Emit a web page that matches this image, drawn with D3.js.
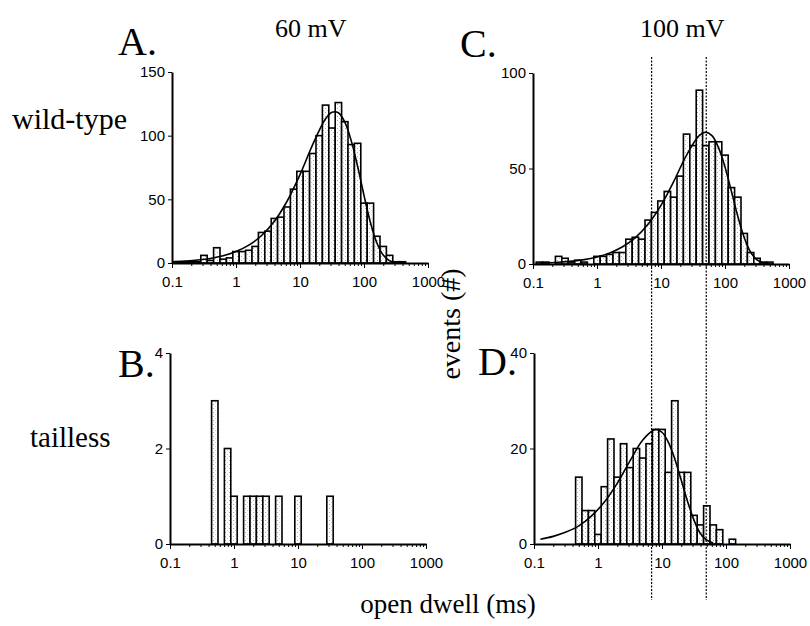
<html>
<head>
  <script src="https://d3js.org/d3.v7.min.js"></script>
  <style>
    body { margin: 0; background: #fff; }
    .axis path, .axis line { stroke: #000; }
    .axis text { font-family: "Liberation Sans", Arial, sans-serif; font-size: 15px; fill: #000; }
    .lbl { font-family: "Liberation Serif", "Times New Roman", serif; fill: #000; }
  </style>
</head>
<body>
  <svg id="fig" width="810" height="626"></svg>
  <script>
    // bin k is centred at 10^(-1 + k/10) ms (10 bins per decade)
    const countsA = [0, 1, 1, 1, 1, 6, 2, 12, 3, 4, 9, 9, 10, 13, 24, 25, 35, 36, 44, 58, 72, 72, 86, 100, 124, 106, 126, 111, 93, 94, 47, 47, 21, 13, 6, 1, 1];
    const countsB = [0, 0, 0, 0, 0, 0, 0, 3, 0, 2, 1, 0, 1, 1, 1, 1, 0, 1, 0, 0, 1, 0, 0, 0, 0, 1];
    const countsC = [0, 1, 1, 0, 4, 3, 1, 2, 1, 0, 4, 4, 5, 6, 6, 13, 14, 13, 23, 27, 33, 38, 35, 46, 68, 62, 91, 62, 64, 64, 57, 40, 35, 16, 6, 3, 1, 1];
    const countsD = [0, 0, 0, 0, 0, 0, 0, 14, 7, 7, 2, 12, 22, 14, 21, 16, 20, 18, 21, 24, 24, 15, 30, 15, 15, 6, 4, 8, 4, 3, 0, 1];

    // fitted curves: log10(ms) and height
    const fitA_log = [-1, -0.8, -0.6, -0.4, -0.2, 0, 0.2, 0.4, 0.6, 0.8, 1.0, 1.2, 1.4, 1.5, 1.6, 1.7, 1.8, 1.9, 2.0, 2.1, 2.2, 2.3, 2.4, 2.6];
    const fitA_val = [0.9, 1.5, 2.3, 3.6, 5.7, 9.0, 14.0, 21.6, 32.8, 48.7, 69.4, 93.2, 113.3, 118.4, 118.0, 110.6, 96.1, 76, 53.1, 31.9, 15.9, 6.2, 1.8, 0];
    const fitC_log = [-0.9, -0.6, -0.2, 0, 0.2, 0.4, 0.6, 0.8, 1.0, 1.2, 1.4, 1.6, 1.7, 1.8, 1.9, 2.0, 2.1, 2.2, 2.3, 2.4, 2.5, 2.6, 2.7];
    const fitC_val = [0.5, 0.9, 2.3, 3.7, 5.8, 9.0, 13.8, 20.9, 30.7, 43.3, 57.0, 67.3, 69.0, 67.1, 60.8, 50.8, 38.1, 25.0, 13.9, 6.2, 2.1, 0.5, 0];
    const fitD_log = [-0.9, -0.7, -0.5, -0.3, -0.1, 0.1, 0.3, 0.5, 0.7, 0.9, 1.0, 1.1, 1.2, 1.3, 1.4, 1.5, 1.6, 1.7, 1.8];
    const fitD_val = [1.0, 1.6, 2.5, 3.8, 5.9, 8.8, 12.7, 17.4, 21.8, 24.0, 23.4, 21.3, 17.8, 13.4, 8.9, 5.0, 2.2, 0.8, 0.2];

    const xTicks = [0.1, 1, 10, 100, 1000];
    const xTickLabels = ["0.1", "1", "10", "100", "1000"];
    const refLines = [7, 50]; // dashed markers through C and D (ms)

    const svg = d3.select("#fig");
    const defs = svg.append("defs");
    const pat = defs.append("pattern").attr("id", "stip")
      .attr("width", 4).attr("height", 4).attr("patternUnits", "userSpaceOnUse");
    pat.append("rect").attr("width", 4).attr("height", 4).attr("fill", "#fff");
    pat.append("rect").attr("x", 1).attr("y", 0).attr("width", 1).attr("height", 1).attr("fill", "#aaa");
    pat.append("rect").attr("x", 3).attr("y", 2).attr("width", 1).attr("height", 1).attr("fill", "#ccc");

    const panels = [
      { counts: countsA, fitLog: fitA_log, fitVal: fitA_val, left: 172, bottom: 263, top: 72, yMax: 150, yTicks: [0, 50, 100, 150] },
      { counts: countsC, fitLog: fitC_log, fitVal: fitC_val, left: 533, bottom: 264, top: 73, yMax: 100, yTicks: [0, 50, 100] },
      { counts: countsB, fitLog: null, fitVal: null, left: 170, bottom: 544, top: 353, yMax: 4, yTicks: [0, 2, 4] },
      { counts: countsD, fitLog: fitD_log, fitVal: fitD_val, left: 534, bottom: 544, top: 353, yMax: 40, yTicks: [0, 20, 40] }
    ];

    panels.forEach(p => {
      const x = d3.scaleLog().domain([0.1, 1000]).range([p.left, p.left + 256]);
      const y = d3.scaleLinear().domain([0, p.yMax]).range([p.bottom, p.top]);
      const g = svg.append("g");

      const bins = p.counts.map((c, k) => ({ k: k, c: c })).filter(d => d.c > 0);
      g.selectAll("rect.bar").data(bins).join("rect")
        .attr("class", "bar")
        .attr("x", d => x(Math.pow(10, -1 + (d.k - 0.5) / 10)))
        .attr("width", d => x(Math.pow(10, -1 + (d.k + 0.5) / 10)) - x(Math.pow(10, -1 + (d.k - 0.5) / 10)))
        .attr("y", d => y(d.c))
        .attr("height", d => y(0) - y(d.c))
        .attr("fill", "url(#stip)")
        .attr("stroke", "#000")
        .attr("stroke-width", 1.6);

      if (p.fitLog) {
        const pts = p.fitLog.map((l, i) => [Math.pow(10, l), p.fitVal[i]]);
        const line = d3.line().x(d => x(d[0])).y(d => y(d[1])).curve(d3.curveCatmullRom);
        g.append("path").attr("d", line(pts))
          .attr("fill", "none").attr("stroke", "#000").attr("stroke-width", 1.6);
      }

      // minor x ticks
      const minor = [];
      [0.1, 1, 10, 100].forEach(dec => { for (let m = 2; m <= 9; m++) minor.push(dec * m); });
      g.append("g").attr("class", "axis")
        .attr("transform", `translate(0,${p.bottom})`)
        .call(d3.axisBottom(x).tickValues(minor).tickSize(3).tickSizeOuter(0).tickFormat(""))
        .call(a => a.select(".domain").remove());
      g.append("g").attr("class", "axis")
        .attr("transform", `translate(0,${p.bottom})`)
        .call(d3.axisBottom(x).tickValues(xTicks).tickSize(5).tickSizeOuter(0)
          .tickFormat((d, i) => xTickLabels[i]))
        .call(a => a.select(".domain").attr("stroke-width", 2))
        .call(a => a.selectAll("text").attr("dy", "1.05em"));

      g.append("g").attr("class", "axis")
        .attr("transform", `translate(${p.left},0)`)
        .call(d3.axisLeft(y).tickValues(p.yTicks).tickSize(4).tickSizeOuter(0).tickFormat(d3.format("d")))
        .call(a => a.select(".domain").attr("stroke-width", 2))
        .call(a => a.selectAll("text").attr("x", -7));
    });

    // dashed reference lines through C and D
    const xr = d3.scaleLog().domain([0.1, 1000]).range([533.5, 789.5]);
    svg.selectAll("line.ref").data(refLines).join("line")
      .attr("class", "ref")
      .attr("x1", d => xr(d)).attr("x2", d => xr(d))
      .attr("y1", 57).attr("y2", 600)
      .attr("stroke", "#000").attr("stroke-width", 1.2)
      .attr("stroke-dasharray", "2,1.5");

    const txt = (s, x, y, size, anchor) => svg.append("text").attr("class", "lbl")
      .attr("x", x).attr("y", y).attr("font-size", size)
      .attr("text-anchor", anchor || "start").text(s);
    txt("A.", 118, 55, 40);
    txt("C.", 460, 57, 40);
    txt("B.", 118, 377, 40);
    txt("D.", 478, 375, 40);
    txt("60 mV", 275, 37, 26);
    txt("100 mV", 640, 37, 26);
    txt("wild-type", 12, 129, 30);
    txt("tailless", 30, 447, 29);
    txt("open dwell (ms)", 448, 613, 27, "middle");
    svg.append("text").attr("class", "lbl")
      .attr("transform", "translate(460,324) rotate(-90)")
      .attr("font-size", 28).attr("text-anchor", "middle").text("events (#)");
  </script>
</body>
</html>
